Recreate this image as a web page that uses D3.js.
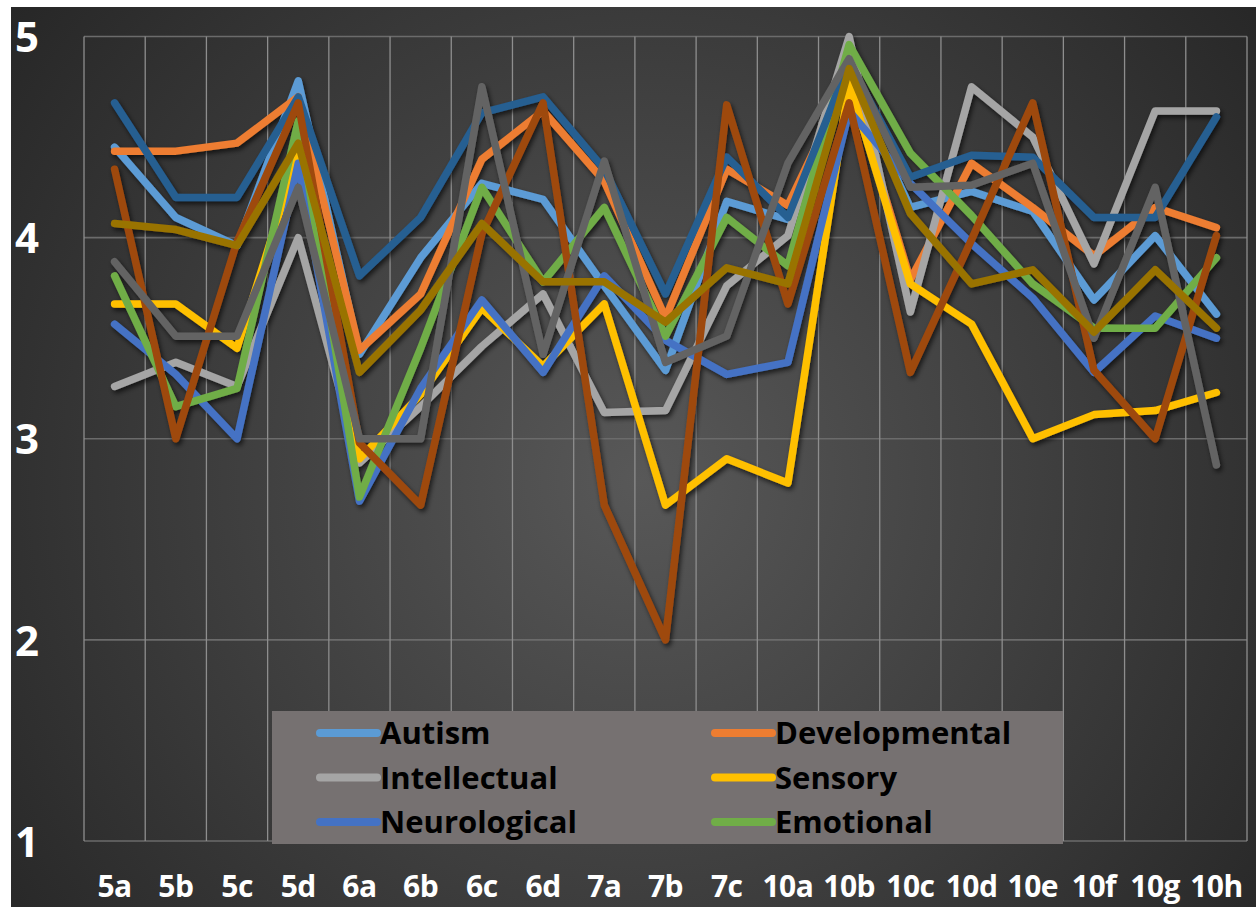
<!DOCTYPE html>
<html>
<head>
<meta charset="utf-8">
<script src="https://cdn.jsdelivr.net/npm/d3@7"></script>
<style>
  body { margin: 0; background: #fff; }
  svg { display: block; }
</style>
</head>
<body>
<svg id="chart"></svg>
<script>
// categorieen op de x-as
var categories = ["5a", "5b", "5c", "5d", "6a", "6b", "6c", "6d", "7a", "7b", "7c",
                  "10a", "10b", "10c", "10d", "10e", "10f", "10g", "10h"];

// tick labels y-as
var yTicks = [1, 2, 3, 4, 5];

// series namen en kleuren (alleen de eerste 6 staan in de legenda)
var seriesNames = ["Autism", "Developmental", "Intellectual", "Sensory", "Neurological",
                   "Emotional", "Series 7", "Series 8", "Series 9", "Series 10"];
var seriesColors = ["#5B9BD5", "#ED7D31", "#A5A5A5", "#FFC000", "#4472C4",
                    "#70AD47", "#255E91", "#9E480E", "#636363", "#997300"];

// waarden per serie
var autism        = [4.45, 4.10, 3.96, 4.78, 3.42, 3.90, 4.27, 4.19, 3.76, 3.34, 4.18, 4.09, 4.80, 4.15, 4.23, 4.13, 3.69, 4.01, 3.62];
var developmental = [4.43, 4.43, 4.47, 4.70, 3.44, 3.72, 4.39, 4.63, 4.28, 3.60, 4.34, 4.16, 4.80, 3.79, 4.37, 4.15, 3.91, 4.15, 4.05];
var intellectual  = [3.26, 3.38, 3.26, 4.00, 2.88, 3.16, 3.46, 3.72, 3.13, 3.14, 3.76, 4.01, 5.00, 3.63, 4.75, 4.50, 3.87, 4.63, 4.63];
var sensory       = [3.67, 3.67, 3.45, 4.42, 2.90, 3.22, 3.65, 3.36, 3.67, 2.67, 2.90, 2.78, 4.77, 3.77, 3.57, 3.00, 3.12, 3.14, 3.23];
var neurological  = [3.57, 3.32, 3.00, 4.37, 2.69, 3.25, 3.69, 3.33, 3.81, 3.49, 3.32, 3.38, 4.63, 4.27, 3.97, 3.70, 3.33, 3.61, 3.50];
var emotional     = [3.81, 3.16, 3.25, 4.58, 2.71, 3.45, 4.25, 3.78, 4.15, 3.51, 4.10, 3.86, 4.96, 4.42, 4.11, 3.77, 3.55, 3.55, 3.90];
var series7       = [4.67, 4.20, 4.20, 4.70, 3.81, 4.10, 4.62, 4.70, 4.34, 3.72, 4.40, 4.10, 4.87, 4.30, 4.41, 4.40, 4.10, 4.10, 4.60];
var series8       = [4.34, 3.00, 3.98, 4.67, 2.98, 2.67, 4.02, 4.67, 2.67, 2.00, 4.66, 3.67, 4.67, 3.33, 3.99, 4.67, 3.34, 3.00, 4.01];
var series9       = [3.88, 3.51, 3.51, 4.25, 3.00, 3.00, 4.75, 3.42, 4.38, 3.38, 3.51, 4.37, 4.89, 4.25, 4.26, 4.37, 3.50, 4.25, 2.87];
var series10      = [4.07, 4.04, 3.96, 4.47, 3.33, 3.64, 4.07, 3.78, 3.78, 3.58, 3.85, 3.77, 4.84, 4.12, 3.77, 3.84, 3.53, 3.84, 3.55];

var allValues = [autism, developmental, intellectual, sensory, neurological,
                 emotional, series7, series8, series9, series10];

var legendCount = 6;

// afmetingen
var width = 1256, height = 907;
var plot = {left: 84, right: 1247, top: 36.5, bottom: 841};

var svg = d3.select("#chart")
            .attr("width", width)
            .attr("height", height);

var defs = svg.append("defs");

// achtergrond met radiaal verloop
var grad = defs.append("radialGradient")
    .attr("id", "bg")
    .attr("gradientUnits", "userSpaceOnUse")
    .attr("cx", 640).attr("cy", 480).attr("r", 800);
grad.append("stop").attr("offset", "0%").attr("stop-color", "#585858");
grad.append("stop").attr("offset", "100%").attr("stop-color", "#262626");

// schaduw onder de lijnen
var shadow = defs.append("filter")
    .attr("id", "shadow")
    .attr("x", "-5%").attr("y", "-5%")
    .attr("width", "110%").attr("height", "110%");
shadow.append("feDropShadow")
    .attr("dx", 2).attr("dy", 3)
    .attr("stdDeviation", 2.5)
    .attr("flood-color", "#000")
    .attr("flood-opacity", 0.65);

svg.append("rect")
    .attr("x", 11).attr("y", 7)
    .attr("width", width - 11).attr("height", height - 7)
    .attr("fill", "url(#bg)");

// schalen
var x = d3.scaleBand()
    .domain(categories)
    .range([plot.left, plot.right]);

var y = d3.scaleLinear()
    .domain([1, 5])
    .range([plot.bottom, plot.top]);

// horizontale rasterlijnen
svg.append("g")
    .attr("class", "hgrid")
    .selectAll("line")
    .data(yTicks)
    .enter().append("line")
      .attr("x1", plot.left).attr("x2", plot.right)
      .attr("y1", function(d) { return y(d); })
      .attr("y2", function(d) { return y(d); })
      .attr("stroke", "#6b6b6b")
      .attr("stroke-width", 1.6);

// verticale rasterlijnen op de grenzen van de banden
var bounds = categories.map(function(c) { return x(c); }).concat([plot.right]);
svg.append("g")
    .attr("class", "vgrid")
    .selectAll("line")
    .data(bounds)
    .enter().append("line")
      .attr("x1", function(d) { return d; })
      .attr("x2", function(d) { return d; })
      .attr("y1", plot.top).attr("y2", plot.bottom)
      .attr("stroke", "#8e8e8e")
      .attr("stroke-width", 1.3);

// y-as labels
var yAxis = svg.append("g")
    .attr("transform", "translate(27,0)")
    .call(d3.axisLeft(y).tickValues(yTicks).tickSize(0).tickPadding(0).tickFormat(d3.format("d")));
yAxis.select(".domain").remove();
yAxis.selectAll("text")
    .attr("x", 0)
    .attr("dy", "0.36em")
    .attr("text-anchor", "middle")
    .attr("fill", "#fff")
    .style("font-family", "'Open Sans', sans-serif")
    .style("font-weight", "bold")
    .style("font-size", "42px");

// x-as labels
var xAxis = svg.append("g")
    .attr("transform", "translate(0,897)")
    .call(d3.axisBottom(x).tickSize(0).tickPadding(0));
xAxis.select(".domain").remove();
xAxis.selectAll("text")
    .attr("y", 0)
    .attr("dy", 0)
    .attr("fill", "#fff")
    .style("font-family", "'Open Sans', sans-serif")
    .style("font-weight", "bold")
    .style("font-size", "30px")
    .style("letter-spacing", "-0.5px");

// lijnen
var line = d3.line()
    .x(function(d, i) { return x(categories[i]) + x.bandwidth() / 2; })
    .y(function(d) { return y(d); });

svg.append("g")
    .attr("class", "lines")
    .attr("filter", "url(#shadow)")
    .selectAll("path")
    .data(allValues)
    .enter().append("path")
      .attr("d", line)
      .attr("fill", "none")
      .attr("stroke", function(d, i) { return seriesColors[i]; })
      .attr("stroke-width", 7.5)
      .attr("stroke-linejoin", "round")
      .attr("stroke-linecap", "round");

// legenda
var legend = svg.append("g").attr("class", "legend");
legend.append("rect")
    .attr("x", 272).attr("y", 711)
    .attr("width", 791).attr("height", 133)
    .attr("fill", "#767171");

var items = legend.selectAll("g.item")
    .data(seriesNames.slice(0, legendCount))
    .enter().append("g")
      .attr("class", "item")
      .attr("transform", function(d, i) {
        return "translate(" + (i % 2 === 0 ? 320 : 715) + "," + (733 + Math.floor(i / 2) * 44.5) + ")";
      });

items.append("line")
    .attr("x1", 0).attr("x2", 57)
    .attr("y1", 0).attr("y2", 0)
    .attr("stroke", function(d, i) { return seriesColors[i]; })
    .attr("stroke-width", 8)
    .attr("stroke-linecap", "round");

items.append("text")
    .attr("x", 60)
    .attr("dy", "0.36em")
    .attr("fill", "#000")
    .style("font-family", "'Open Sans', sans-serif")
    .style("font-weight", "bold")
    .style("font-size", "31px")
    .text(function(d) { return d; });
</script>
</body>
</html>
